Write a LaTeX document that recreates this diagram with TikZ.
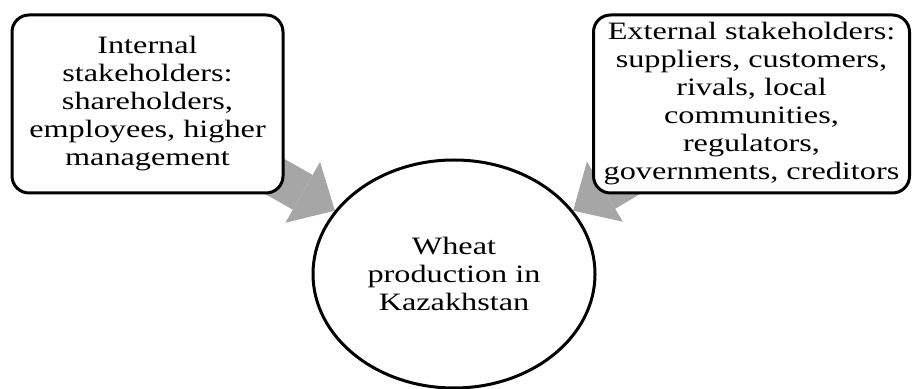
\documentclass[tikz,border=0pt]{standalone}
\usepackage{fontspec}
\setmainfont[FakeStretch=1.29]{Liberation Serif}
\usetikzlibrary{arrows.meta,positioning,shapes.geometric,backgrounds}
\definecolor{skInk}{HTML}{000000}
\definecolor{skArrow}{HTML}{A6A6A6}
\tikzset{
  grp/.style={draw=skInk, fill=white, line width=3pt, rounded corners=17pt, inner sep=0pt, minimum height=178pt, align=center, font=\fontsize{25}{28}\selectfont},
  hub/.style={ellipse, draw=skInk, fill=white, line width=3pt, minimum width=282pt, minimum height=228pt, inner sep=0pt, align=center, font=\fontsize{25}{28}\selectfont},
  blk/.style={draw=skArrow, line width=40pt, -{Triangle[length=37pt, width=70pt, line width=0pt]}},
}
\begin{document}
\begin{tikzpicture}[x=1pt,y=1pt]
  \useasboundingbox (0,0) rectangle (912,388);
  \node[grp, minimum width=271pt] (intl) at (147.5,284) {Internal\\stakeholders:\\shareholders,\\employees, higher\\management};
  \node[grp, minimum width=316pt] (extl) at (751.5,284) {External stakeholders:\\suppliers, customers,\\rivals, local\\communities,\\regulators,\\governments, creditors};
  \node[hub] (prod) at (454,114) {Wheat\\production in\\Kazakhstan};
  % block arrows sit under the boxes
  \begin{scope}[on background layer]
    \draw[blk] (intl.center) -- (prod.152);
    \draw[blk] (extl.center) -- (prod.28);
  \end{scope}
\end{tikzpicture}
\end{document}
